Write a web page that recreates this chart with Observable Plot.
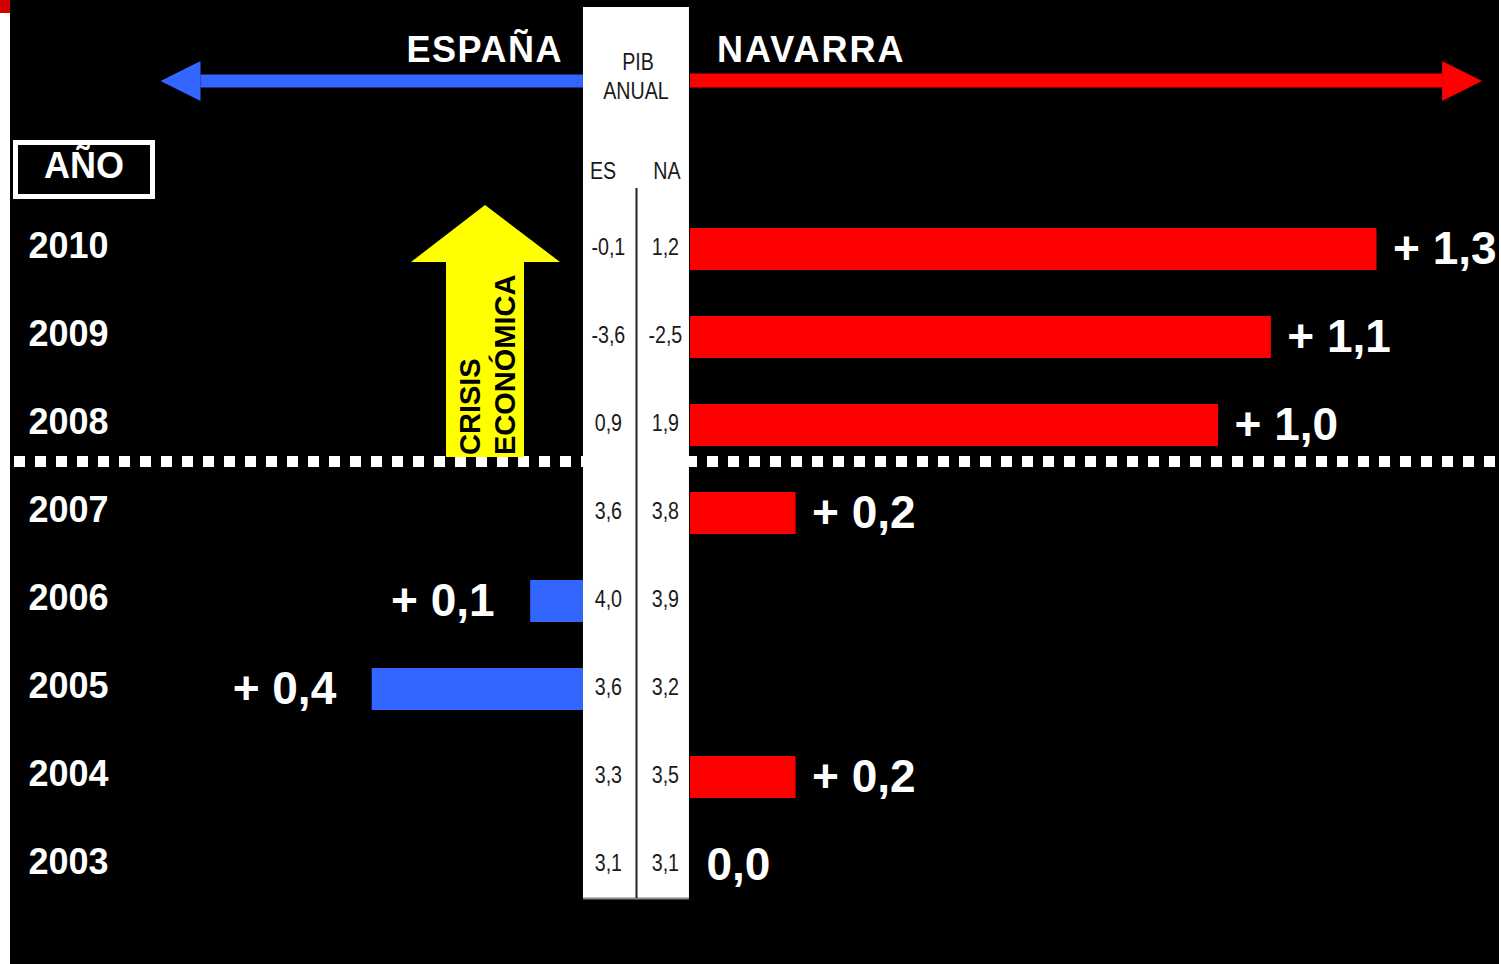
<!DOCTYPE html>
<html><head><meta charset="utf-8">
<script src="https://cdn.jsdelivr.net/npm/d3@7"></script>
<script src="https://cdn.jsdelivr.net/npm/@observablehq/plot@0.6"></script>
<style>
html,body{margin:0;padding:0;background:#fff;overflow:hidden;}
#chart svg{display:block;}
</style></head><body><div id="chart"></div>
<script>
// ---- data ----
const years = [2010, 2009, 2008, 2007, 2006, 2005, 2004, 2003];
const pibES = [-0.1, -3.6, 0.9, 3.6, 4.0, 3.6, 3.3, 3.1];
const pibNA = [1.2, -2.5, 1.9, 3.8, 3.9, 3.2, 3.5, 3.1];
const headerES = "ESPAÑA";
const headerNA = "NAVARRA";
const panelTitle = ["PIB", "ANUAL"];
const colLabels = ["ES", "NA"];
const yearTitle = "AÑO";
const crisisText = ["CRISIS", "ECONÓMICA"];
const crisisYears = [2007.5, 2010.5];
const arrowExtent = [0.8, 1.5]; // ES side, NA side (difference units)

const rows = years.map((year, i) => ({
  year, es: pibES[i], na: pibNA[i],
  diff: Math.round((pibNA[i] - pibES[i]) * 10) / 10
}));
const fmt = v => v.toFixed(1).replace(".", ",");
const diffLabel = d => d.diff === 0 ? fmt(0) : "+ " + fmt(Math.abs(d.diff));

const BOLD = "'Liberation Sans', Arial, Helvetica, sans-serif";
const NARROW = "'Liberation Sans', Arial, sans-serif";
const SQUEEZE = 0.82;
const PANEL = 107;
const COL_DX = [-82, -25];
const BLUE = "#3366ff", RED = "#ff0000", YELLOW = "#ffff00";

const plot = Plot.plot({
  width: 1501, height: 964,
  marginLeft: 14, marginRight: 2, marginTop: 249, marginBottom: 99,
  x: {domain: [-1.28, 1.532], axis: null},
  y: {domain: [2003, 2010], axis: null},
  style: {background: "black", fontFamily: BOLD},
  marks: [
    Plot.ruleY([2007.5], {stroke: "white", strokeWidth: 11, strokeDasharray: "11,10", dy: -8}),
    Plot.rect(rows.filter(d => d.diff > 0), {
      x1: () => 0, x2: "diff", y1: d => d.year - 0.5, y2: d => d.year + 0.5,
      insetTop: 23, insetBottom: 23, fill: RED
    }),
    Plot.rect(rows.filter(d => d.diff < 0), {
      x1: () => 0, x2: "diff", y1: d => d.year - 0.5, y2: d => d.year + 0.5,
      insetTop: 23, insetBottom: 23, fill: BLUE, dx: -PANEL
    }),
    Plot.text(rows.filter(d => d.diff >= 0), {
      x: "diff", y: "year", text: diffLabel, textAnchor: "start", dx: 16,
      fill: "white", fontSize: 46, fontWeight: "bold"
    }),
    Plot.text(rows.filter(d => d.diff < 0), {
      x: "diff", y: "year", text: diffLabel, textAnchor: "end", dx: -PANEL - 36,
      fill: "white", fontSize: 46, fontWeight: "bold"
    }),
    Plot.text(rows, {
      y: "year", text: d => String(d.year), frameAnchor: "left", textAnchor: "start",
      dx: 14, dy: -3, fill: "white", fontSize: 36, fontWeight: "bold"
    }),
    Plot.text(rows, {
      x: () => 0, y: "year", text: d => fmt(d.es), dx: COL_DX[0], dy: -2,
      fill: "#1a1a1a", fontSize: 24, fontFamily: NARROW, className: "colES"
    }),
    Plot.text(rows, {
      x: () => 0, y: "year", text: d => fmt(d.na), dx: COL_DX[1], dy: -2,
      fill: "#1a1a1a", fontSize: 24, fontFamily: NARROW, className: "colNA"
    })
  ]
});

document.getElementById("chart").appendChild(plot);

const xs = plot.scale("x"), ys = plot.scale("y");
const x0 = xs.apply(0);
const unit = xs.apply(1) - x0;
const pL = x0 - PANEL, pR = x0 - 1;

// squeeze panel number columns horizontally about their column centre (Arial Narrow look)
[["colES", COL_DX[0]], ["colNA", COL_DX[1]]].forEach(([cls, dx]) => {
  const el = plot.querySelector("g." + cls) || plot.querySelector("." + cls);
  if (!el) return;
  const cx = x0 + dx;
  const tr = el.getAttribute("transform") || "";
  el.setAttribute("transform", `translate(${cx},0) scale(${SQUEEZE},1) translate(${-cx},0) ${tr}`);
});

// ---- annotations ----
const ruleG = plot.querySelector('g[aria-label="rule"]');
const ov = document.createElementNS("http://www.w3.org/2000/svg", "g");
plot.insertBefore(ov, ruleG.nextSibling);
const g = d3.select(ov);

// page edges
g.append("rect").attr("x", 0).attr("y", 0).attr("width", 10).attr("height", 964).attr("fill", "white");
g.append("rect").attr("x", 0).attr("y", 0).attr("width", 10).attr("height", 13).attr("fill", "#d40000");
g.append("rect").attr("x", 1499).attr("y", 0).attr("width", 2).attr("height", 964).attr("fill", "white");

// yellow crisis arrow
const ax = 485, aTop = ys.apply(crisisYears[1]), aBot = ys.apply(crisisYears[0]) - 12;
g.append("polygon")
  .attr("points", [[ax, aTop], [ax + 75, aTop + 57], [ax + 39, aTop + 57], [ax + 39, aBot],
                   [ax - 39, aBot], [ax - 39, aTop + 57], [ax - 74, aTop + 57]].join(" "))
  .attr("fill", YELLOW);
[[crisisText[0], ax - 5], [crisisText[1], ax + 30]].forEach(([t, bx]) => {
  g.append("text").attr("transform", `translate(${bx},${aBot - 2}) rotate(-90)`)
    .attr("text-anchor", "start")
    .attr("font-family", BOLD).attr("font-weight", "bold").attr("font-size", 29)
    .attr("fill", "black").text(t);
});

// central panel
g.append("rect").attr("x", pL).attr("y", 7).attr("width", pR - pL).attr("height", 891).attr("fill", "white");
g.append("line").attr("x1", pL).attr("x2", pR).attr("y1", 898.5).attr("y2", 898.5).attr("stroke", "#888").attr("stroke-width", 2);
g.append("line").attr("x1", 636.5).attr("x2", 636.5).attr("y1", 188).attr("y2", 898).attr("stroke", "#222").attr("stroke-width", 2);
const ntext = (t, x, y) => g.append("text")
  .attr("transform", `translate(${x},${y}) scale(${SQUEEZE},1)`)
  .attr("text-anchor", "middle").attr("font-family", NARROW).attr("font-size", 24).attr("fill", "#1a1a1a").text(t);
ntext(panelTitle[0], 638, 70);
ntext(panelTitle[1], 636, 99);
ntext(colLabels[0], 603, 179);
ntext(colLabels[1], 667, 179);

// direction arrows
const ay = 81, hl = 40, hh = 20, sh = 6.5;
const blueTip = pL - arrowExtent[0] * unit, redTip = xs.apply(arrowExtent[1]);
g.append("rect").attr("x", blueTip + hl).attr("y", ay - sh).attr("width", pL - blueTip - hl).attr("height", 2 * sh).attr("fill", BLUE);
g.append("polygon").attr("points", [[blueTip, ay], [blueTip + hl, ay - hh], [blueTip + hl, ay + hh]].join(" ")).attr("fill", BLUE);
g.append("rect").attr("x", pR + 1).attr("y", ay - sh - 1).attr("width", redTip - hl - pR - 1).attr("height", 2 * sh + 1).attr("fill", RED);
g.append("polygon").attr("points", [[redTip, ay], [redTip - hl, ay - hh], [redTip - hl, ay + hh]].join(" ")).attr("fill", RED);

const btext = (t, x, y, anchor, size, ls = 0) => g.append("text").attr("x", x).attr("y", y)
  .attr("text-anchor", anchor).attr("font-family", BOLD).attr("font-weight", "bold")
  .attr("letter-spacing", ls).attr("font-size", size).attr("fill", "white").text(t);
btext(headerES, pL - 20, 62, "end", 36, 1.5);
btext(headerNA, x0 + 27, 62, "start", 36, 2);

// AÑO box
g.append("rect").attr("x", 15.5).attr("y", 142.5).attr("width", 137).attr("height", 54)
  .attr("fill", "none").attr("stroke", "white").attr("stroke-width", 5);
btext(yearTitle, 84, 178, "middle", 36);
</script>
</body></html>
